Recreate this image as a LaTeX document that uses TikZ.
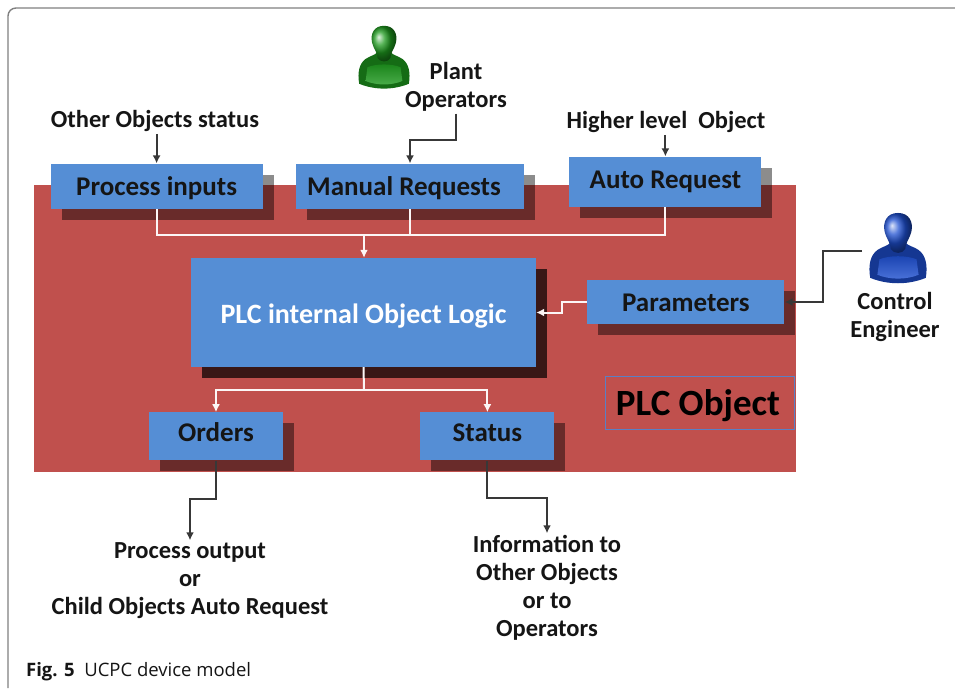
\documentclass[tikz,border=0pt]{standalone}
\usepackage{fontspec}
\setmainfont{Carlito}
\newfontfamily\capfont{Open Sans}
\usepackage{tikz}
\usetikzlibrary{shapes,positioning,arrows.meta,shadows}
\definecolor{red1}{HTML}{C0504D}
\definecolor{blue1}{HTML}{558ED5}
\definecolor{blue3}{HTML}{5A80C4}
\definecolor{grey1}{HTML}{808080}
\definecolor{ink1}{HTML}{151515}
\definecolor{green1}{HTML}{1E9A1E}
\definecolor{blue2}{HTML}{1E4FD0}
\newcommand{\boxtext}[2]{\raisebox{#1}[0pt][0pt]{#2}}
\tikzset{blockbox/.style={rectangle,fill=blue1,inner sep=0pt,text=ink1,font=\fontsize{27}{32}\selectfont\bfseries,
    drop shadow={shadow xshift=11pt,shadow yshift=-11pt,opacity=#1,fill=black}},blockbox/.default=0.45}
\tikzset{labeltext/.style={align=center,inner sep=2pt,text=ink1,font=\fontsize{24.5}{28}\selectfont\bfseries}}
\tikzset{blackline/.style={-{Latex[length=8pt,width=8pt]},line width=2pt,draw=ink1!85!white}}
\tikzset{whiteline/.style={line width=2pt,draw=white!95!red1}}
\tikzset{whitearrow/.style={whiteline,-{Latex[length=8pt,width=8pt]}}}
\tikzset{person/.pic={
    \fill[#1!70!black] (-27,28) .. controls (-29,16) and (-27,6) .. (-20,1) .. controls (-14,-3) and (-9,-3) .. (-7,-7) -- (7,-7) .. controls (9,-3) and (14,-3) .. (20,1) .. controls (27,6) and (29,16) .. (27,28) .. controls (10,35) and (-10,35) .. (-27,28) -- cycle;
    \shade[top color=#1!85!black,bottom color=#1!80!white] (-18,10) .. controls (-8,6) and (8,6) .. (18,10) -- (20,25) .. controls (8,30) and (-8,30) .. (-20,25) -- cycle;
    \shade[ball color=#1] (0,-35) .. controls (11,-35) and (15,-26) .. (13,-17) .. controls (11,-9) and (7,-6) .. (7,0) .. controls (4,5) and (-4,5) .. (-7,0) .. controls (-7,-6) and (-11,-9) .. (-13,-17) .. controls (-15,-26) and (-11,-35) .. (0,-35) -- cycle;
}}

\begin{document}
\begin{tikzpicture}[x=1pt,y=-1pt]
        \useasboundingbox (0,0) rectangle (955,688);
        \draw[grey1,line width=1.4pt,rounded corners=8pt] (8,688) -- (8,8) -- (955,8);
        \fill[red1] (34,185) rectangle (796,472);

        \node[blockbox=0.7,minimum width=345pt,minimum height=109pt,text=white,font=\fontsize{28}{32}\selectfont\bfseries] (logic) at (363.5,312.5) {\boxtext{-11pt}{PLC internal Object Logic}};
        \node[blockbox,minimum width=228pt,minimum height=45pt,above=49pt of logic,xshift=46.5pt] (manual) {\boxtext{-9pt}{\hspace*{-12pt}Manual Requests}};
        \node[blockbox,minimum width=212pt,minimum height=45pt,left=33pt of manual] (pin) {\boxtext{-9pt}{Process inputs}};
        \node[blockbox,minimum width=192pt,minimum height=50pt,right=45pt of manual,yshift=4.5pt] (auto) {\boxtext{-6.5pt}{Auto Request}};
        \node[blockbox,minimum width=197pt,minimum height=44pt,right=51pt of logic,yshift=10.5pt] (param) {\boxtext{-9pt}{Parameters}};
        \node[blockbox,minimum width=134pt,minimum height=48pt,below=45pt of logic,xshift=-147.5pt] (orders) {\boxtext{-5.5pt}{Orders}};
        \node[blockbox,minimum width=134pt,minimum height=48pt,right=137pt of orders] (status) {\boxtext{-5.5pt}{Status}};
        \node[rectangle,draw=blue3,line width=1.8pt,inner sep=0pt,minimum width=189pt,minimum height=53pt,right=50pt of status,yshift=33.5pt,text=black,font=\fontsize{37}{40}\selectfont\bfseries] (plcobj) {\boxtext{-12.5pt}{\hspace*{-4pt}PLC Object}};

        \node[labeltext] (others) at (155,121) {Other Objects status};
        \node[labeltext] (plant) at (456,87) {Plant\\Operators};
        \node[labeltext] (higher) at (666,122) {Higher level\ \ Object};
        \node[labeltext] (engineer) at (895,317) {Control\\Engineer};
        \node[labeltext] (procout) at (190,580.5) {Process output\\or\\Child Objects Auto Request};
        \node[labeltext] (info) at (547,588) {Information to\\Other Objects\\or to\\Operators};

        \pic[scale=0.92] at (384,58) {person=green1};
        \pic[scale=1.03] at (898,249) {person=blue2};
        \coordinate (engineerhand) at (862,251);
        \coordinate (joinin) at (364,235);
        \coordinate (joinout) at (364,390);

        \draw[whiteline] (pin.south) |- (joinin);
        \draw[whiteline] (manual.south) |- (joinin);
        \draw[whiteline] (auto.south) |- (joinin);
        \draw[whitearrow] (joinin) -- (joinin |- logic.north);
        \draw[whitearrow] (param.west) -- ++(-25,0) |- (logic.east);
        \draw[whiteline] (logic.south) -- (joinout);
        \draw[whitearrow] (joinout) -| (orders.north);
        \draw[whitearrow] (joinout) -| (status.north);

        \draw[blackline] (pin.north |- others.south) -- (pin.north);
        \draw[blackline] (plant.south) -- ++(0,26) -| (manual.north);
        \draw[blackline] (auto.north |- higher.south) -- (auto.north);
        \draw[blackline] (engineerhand) -- ++(-39,0) |- (param.east);
        \draw[blackline] (orders.south) -- ++(0,38) -| (procout.north);
        \draw[blackline] (status.south) -- ++(0,37) -| (info.north);

        \node[anchor=base west,inner sep=0pt,text=ink1,font=\fontsize{18.5}{22}\selectfont\capfont] (caption) at (26,676) {\textbf{Fig. 5}\ \ UCPC device model};
    \end{tikzpicture}
\end{document}
